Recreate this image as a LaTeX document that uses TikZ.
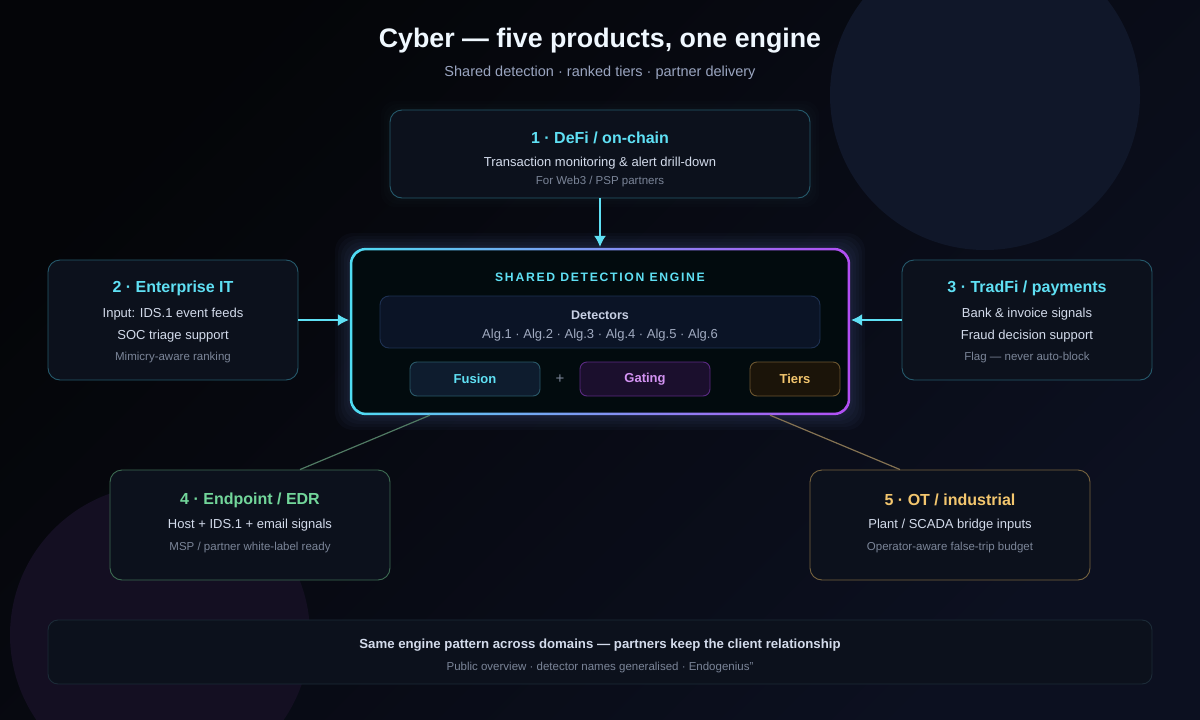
\documentclass[tikz,border=0pt]{standalone}
\usepackage{fontspec}
\setmainfont{Liberation Sans}
\newfontfamily\spacedfont[LetterSpace=14]{Liberation Sans}
\usetikzlibrary{arrows.meta,calc}
\definecolor{bgA}{HTML}{040508}
\definecolor{bgB}{HTML}{0C1020}
\definecolor{circA}{HTML}{101729}
\definecolor{circB}{HTML}{140F22}
\definecolor{boxfill}{HTML}{0C111C}
\definecolor{tealline}{HTML}{25596B}
\definecolor{cyanT}{HTML}{5FE0F4}
\definecolor{lightT}{HTML}{D3DBEB}
\definecolor{mutedT}{HTML}{7B8598}
\definecolor{subT}{HTML}{9AA5C0}
\definecolor{greenL}{HTML}{3D6B52}
\definecolor{greenT}{HTML}{72D69A}
\definecolor{goldL}{HTML}{76633F}
\definecolor{goldT}{HTML}{F3C66E}
\definecolor{engFill}{HTML}{020B0E}
\definecolor{engCyan}{HTML}{4FDCF2}
\definecolor{engPurple}{HTML}{B24EF3}
\definecolor{detFill}{HTML}{0B1426}
\definecolor{detLine}{HTML}{1E3152}
\definecolor{fusFill}{HTML}{0E1C2E}
\definecolor{fusLine}{HTML}{2A5868}
\definecolor{gatFill}{HTML}{1B0F2D}
\definecolor{gatLine}{HTML}{5A2A82}
\definecolor{gatT}{HTML}{D393F2}
\definecolor{tieFill}{HTML}{1B1409}
\definecolor{tieLine}{HTML}{6B5530}
\definecolor{botLine}{HTML}{1C2B38}
\begin{document}
\begin{tikzpicture}[x=1pt,y=-1pt,
  tx/.style={yshift=-2pt},
  card/.style={draw=tealline,fill=boxfill,rounded corners=12pt,line width=0.9pt,inner sep=0pt},
  ttl/.style={tx,font=\fontsize{16}{19}\selectfont\bfseries,text=cyanT},
  body/.style={tx,font=\fontsize{13}{15}\selectfont,text=lightT},
  muted/.style={tx,font=\fontsize{11.5}{13}\selectfont,text=mutedT},
  pill/.style={rounded corners=7pt,line width=0.9pt,font=\fontsize{13}{15}\selectfont\bfseries},
  arr/.style={draw=cyanT,line width=1.4pt,-{Latex[length=11pt,width=12pt]}}]
\useasboundingbox (0,0) rectangle (1200,720);
\begin{scope}
\clip (0,0) rectangle (1200,720);
\shade[shading=axis,top color=bgA,bottom color=bgB,shading angle=45] (0,0) rectangle (1200,720);
\fill[circA] (985,95) circle[radius=155];
\fill[circB] (160,635) circle[radius=150];
\end{scope}

% title
\node[tx,font=\fontsize{26.8}{31}\selectfont\bfseries,text={rgb,255:red,240;green,248;blue,255}] (title) at (600,39) {Cyber — five products, one engine};
\node[tx,font=\fontsize{14.5}{17}\selectfont,text=subT] (sub) at (600,71) {Shared detection · ranked tiers · partner delivery};

% glows
\foreach \g in {3,6,9}{
  \fill[cyanT,opacity=0.012,rounded corners=14pt] (390-\g,110-\g) rectangle (810+\g,198+\g);
}
\foreach \g in {3,6,9,12,15}{
  \fill[engCyan!50!engPurple,opacity=0.03,rounded corners=18pt] (350-\g,248-\g) rectangle (850+\g,415+\g);
}

% box 1
\node[card,minimum width=420pt,minimum height=88pt] (b1) at (600,154) {};
\node[ttl] (b1t) at (600,136) {1 · DeFi / on-chain};
\node[body] (b1a) at (600,161) {Transaction monitoring \& alert drill-down};
\node[muted] (b1b) at (600,180) {For Web3 / PSP partners};

% box 2
\node[card,minimum width=250pt,minimum height=120pt] (b2) at (173,320) {};
\node[ttl] (b2t) at (173,286) {2 · Enterprise IT};
\node[body] (b2a) at (173,312) {Input: IDS.1 event feeds};
\node[body] (b2b) at (173,334) {SOC triage support};
\node[muted] (b2c) at (173,356) {Mimicry-aware ranking};

% box 3
\node[card,minimum width=250pt,minimum height=120pt] (b3) at (1027,320) {};
\node[ttl] (b3t) at (1027,286) {3 · TradFi / payments};
\node[body] (b3a) at (1027,312) {Bank \& invoice signals};
\node[body] (b3b) at (1027,334) {Fraud decision support};
\node[muted] (b3c) at (1027,356) {Flag — never auto-block};

% box 4
\node[card,draw=greenL,minimum width=280pt,minimum height=110pt] (b4) at (250,525) {};
\node[ttl,text=greenT] (b4t) at (250,498) {4 · Endpoint / EDR};
\node[body] (b4a) at (250,523) {Host + IDS.1 + email signals};
\node[muted] (b4b) at (250,546) {MSP / partner white-label ready};

% box 5
\node[card,draw=goldL,minimum width=280pt,minimum height=110pt] (b5) at (950,525) {};
\node[ttl,text=goldT] (b5t) at (950,498) {5 · OT / industrial};
\node[body] (b5a) at (950,523) {Plant / SCADA bridge inputs};
\node[muted] (b5b) at (950,546) {Operator-aware false-trip budget};

% engine
\node[minimum width=500pt,minimum height=167pt,inner sep=0pt] (eng) at (600,331.5) {};
\shade[left color=engCyan,right color=engPurple,rounded corners=16pt] (eng.north west) rectangle (eng.south east);
\fill[engFill,rounded corners=14pt] ($(eng.north west)+(2.5,2.5)$) rectangle ($(eng.south east)+(-2.5,-2.5)$);
\node[tx,font=\fontsize{12.2}{14}\spacedfont\bfseries,text=cyanT] (engt) at (600,275) {SHARED DETECTION ENGINE};
\node[draw=detLine,fill=detFill,rounded corners=9pt,line width=0.9pt,minimum width=440pt,minimum height=52pt] (det) at (600,322) {};
\node[tx,font=\fontsize{12.5}{15}\selectfont\bfseries,text={rgb,255:red,200;green,208;blue,228}] (dett) at (600,313) {Detectors};
\node[tx,font=\fontsize{13}{16}\selectfont,text={rgb,255:red,160;green,170;blue,192}] (deta) at (600,333) {Alg.1 · Alg.2 · Alg.3 · Alg.4 · Alg.5 · Alg.6};
\node[pill,draw=fusLine,fill=fusFill,text=cyanT,minimum width=130pt,minimum height=34pt] (fus) at (475,379) {Fusion};
\node[font=\fontsize{15}{17}\selectfont,text=mutedT] (plus) at (560,379) {+};
\node[pill,draw=gatLine,fill=gatFill,text=gatT,minimum width=130pt,minimum height=34pt] (gat) at (645,379) {Gating};
\node[pill,draw=tieLine,fill=tieFill,text=goldT,minimum width=90pt,minimum height=34pt] (tie) at (795,379) {Tiers};

% connectors
\draw[arr] (b1.south) -- ($(eng.north)+(0,-1)$);
\draw[arr] (b2.east) -- ($(b2.east -| eng.west)+(-1,0)$);
\draw[arr] (b3.west) -- ($(b3.west -| eng.east)+(1,0)$);
\coordinate (e4) at ($(eng.south)+(-170,0)$);
\coordinate (s4) at ($(b4.north)+(50,0)$);
\draw[greenL!90!white,line width=1.2pt] (s4) -- (e4);
\coordinate (e5) at ($(eng.south)+(170,0)$);
\coordinate (s5) at ($(b5.north)+(-50,0)$);
\draw[goldL!90!white,line width=1.2pt] (s5) -- (e5);

% bottom
\node[card,draw=botLine,fill=boxfill,rounded corners=10pt,minimum width=1104pt,minimum height=64pt] (bot) at (600,652) {};
\node[tx,font=\fontsize{13.2}{16}\selectfont\bfseries,text=lightT] (bota) at (600,643) {Same engine pattern across domains — partners keep the client relationship};
\node[muted] (botb) at (600,666) {Public overview · detector names generalised · Endogenius"};
\end{tikzpicture}
\end{document}
